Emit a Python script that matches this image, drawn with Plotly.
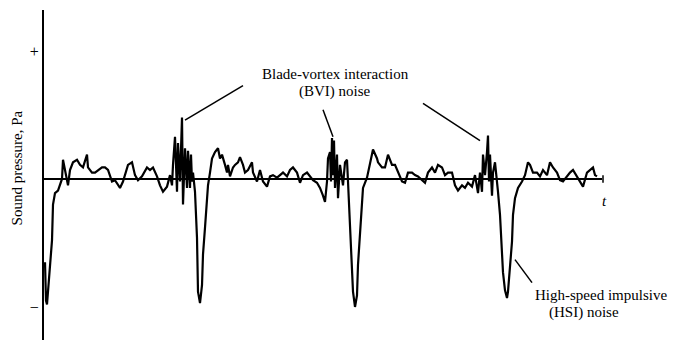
import plotly.graph_objects as go

# time (arbitrary units) and sound pressure (relative, + = 1, - = -1)
time = [0.01, 0.02, 0.03, 0.04, 0.06, 0.08, 0.09, 0.11, 0.14, 0.16, 0.18, 0.19, 0.21, 0.24, 0.26,
        0.29, 0.33, 0.36, 0.39, 0.43, 0.44, 0.48, 0.51, 0.54, 0.58, 0.61, 0.64, 0.68, 0.71, 0.76,
        0.79, 0.84, 0.88, 0.91, 0.94, 0.98, 1.03, 1.06, 1.09, 1.13, 1.16, 1.19, 1.23, 1.26, 1.28,
        1.29, 1.31, 1.33, 1.34, 1.36, 1.38, 1.39, 1.41, 1.43, 1.44, 1.46, 1.47, 1.48, 1.49, 1.51,
        1.53, 1.54, 1.56, 1.58, 1.59, 1.61, 1.63, 1.64, 1.66, 1.68, 1.71, 1.74, 1.76, 1.78, 1.81,
        1.83, 1.84, 1.86, 1.89, 1.91, 1.94, 1.96, 1.99, 2.01, 2.04, 2.08, 2.09, 2.11, 2.13, 2.16,
        2.19, 2.23, 2.26, 2.29, 2.33, 2.36, 2.39, 2.43, 2.46, 2.49, 2.53, 2.56, 2.59, 2.63, 2.66,
        2.69, 2.73, 2.76, 2.79, 2.81, 2.83, 2.84, 2.86, 2.87, 2.88, 2.89, 2.90, 2.91, 2.93, 2.94,
        2.96, 2.98, 2.99, 3.01, 3.03, 3.04, 3.06, 3.08, 3.09, 3.11, 3.13, 3.14, 3.16, 3.18, 3.19,
        3.23, 3.24, 3.28, 3.29, 3.33, 3.34, 3.38, 3.41, 3.44, 3.48, 3.51, 3.54, 3.58, 3.61, 3.64,
        3.68, 3.71, 3.74, 3.78, 3.81, 3.84, 3.88, 3.91, 3.94, 3.98, 4.01, 4.04, 4.08, 4.11, 4.14,
        4.18, 4.21, 4.24, 4.28, 4.31, 4.34, 4.36, 4.38, 4.39, 4.41, 4.43, 4.44, 4.45, 4.46, 4.48,
        4.49, 4.51, 4.53, 4.54, 4.56, 4.58, 4.59, 4.61, 4.63, 4.64, 4.66, 4.68, 4.69, 4.71, 4.74,
        4.78, 4.81, 4.84, 4.86, 4.89, 4.93, 4.96, 4.99, 5.03, 5.06, 5.09, 5.13, 5.16, 5.19, 5.23,
        5.26, 5.29, 5.33, 5.36, 5.39, 5.43, 5.46, 5.49, 5.51, 5.53]
pressure = [-0.65, -0.95, -0.98, -0.87, -0.71, -0.48, -0.20, -0.11, -0.09, -0.05, 0.00, 0.15, 0.07, -0.05, 0.07,
            0.13, 0.15, 0.11, 0.09, 0.19, 0.09, 0.05, 0.05, 0.07, 0.09, 0.09, 0.07, -0.02, -0.01, -0.07,
            -0.02, 0.11, 0.13, 0.03, -0.01, 0.02, 0.09, 0.07, 0.09, 0.02, -0.05, -0.10, -0.06, 0.03, -0.05,
            0.11, 0.33, -0.10, 0.28, -0.02, 0.48, -0.20, 0.24, -0.07, 0.22, -0.07, 0.19, -0.02, 0.05, -0.10,
            -0.46, -0.88, -0.97, -0.83, -0.59, -0.38, -0.18, -0.05, 0.05, 0.16, 0.21, 0.24, 0.16, 0.19, 0.11,
            0.05, 0.11, 0.02, 0.09, 0.11, 0.13, 0.17, 0.11, 0.05, 0.07, 0.13, 0.05, 0.01, -0.02, 0.07,
            -0.02, -0.06, 0.02, 0.03, 0.01, 0.03, 0.05, 0.02, 0.07, 0.09, 0.05, -0.03, 0.03, 0.05, 0.02,
            -0.01, -0.03, -0.07, -0.13, -0.18, -0.02, 0.16, 0.21, -0.02, 0.32, 0.03, 0.30, -0.07, 0.19, -0.15,
            0.11, -0.02, -0.05, 0.13, 0.15, -0.02, -0.41, -0.67, -0.88, -1.00, -0.91, -0.67, -0.46, -0.20, -0.07,
            0.01, 0.05, 0.21, 0.23, 0.16, 0.13, 0.09, 0.09, 0.19, 0.11, 0.11, 0.05, -0.02, -0.03, 0.05,
            0.05, 0.03, 0.02, -0.01, -0.03, 0.05, 0.09, 0.05, 0.11, 0.09, 0.03, 0.05, 0.05, -0.05, -0.09,
            -0.05, -0.07, -0.03, -0.06, 0.03, -0.11, 0.05, -0.10, 0.19, 0.03, 0.21, 0.34, -0.02, 0.19, -0.13,
            0.05, 0.13, -0.07, -0.10, -0.28, -0.52, -0.73, -0.87, -0.93, -0.88, -0.70, -0.49, -0.28, -0.15, -0.07,
            -0.02, 0.03, 0.13, 0.11, 0.05, 0.05, 0.02, 0.07, 0.03, 0.13, 0.09, 0.05, -0.01, -0.02, 0.02,
            0.05, 0.07, 0.02, -0.02, -0.06, 0.05, 0.07, 0.09, 0.03, 0.02]

t_end = 5.58
tick_vals = [1, -1]
tick_text = ["+", "\u2212"]

serif = "Liberation Serif, Times New Roman, serif"
txt = dict(family=serif, size=15, color="black")

fig = go.Figure()
fig.add_trace(go.Scatter(x=time, y=pressure, mode="lines",
                         line=dict(color="black", width=2.2), hoverinfo="skip"))

# zero baseline with small end tick
fig.add_shape(type="line", xref="x", yref="y", x0=0, x1=t_end, y0=0, y1=0,
              line=dict(color="black", width=2))
fig.add_shape(type="line", xref="x", yref="y", x0=t_end + 0.01, x1=t_end + 0.01, y0=-0.03, y1=0.03,
              line=dict(color="black", width=1.5))

# leader lines
leaders = [((1.99, 0.73), (1.41, 0.46)),
           ((2.79, 0.54), (2.89, 0.33)),
           ((3.79, 0.59), (4.36, 0.30)),
           ((4.71, -0.63), (4.88, -0.81))]
for (xa, ya), (xb, yb) in leaders:
    fig.add_shape(type="line", xref="x", yref="y", x0=xa, y0=ya, x1=xb, y1=yb,
                  line=dict(color="black", width=1.5))

fig.add_annotation(x=2.91, y=0.82, xref="x", yref="y", text="Blade-vortex interaction",
                   showarrow=False, font=txt)
fig.add_annotation(x=2.91, y=0.68, xref="x", yref="y", text="(BVI) noise",
                   showarrow=False, font=txt)
fig.add_annotation(x=5.57, y=-0.91, xref="x", yref="y", text="High-speed impulsive",
                   showarrow=False, font=txt)
fig.add_annotation(x=5.40, y=-1.04, xref="x", yref="y", text="(HSI) noise",
                   showarrow=False, font=txt)
fig.add_annotation(x=5.6, y=-0.17, xref="x", yref="y", text="<i>t</i>",
                   showarrow=False, font=txt)
fig.add_annotation(x=0, xshift=-27, xanchor="center", y=0.52, xref="paper", yref="paper",
                   text="Sound pressure, Pa", textangle=-90, showarrow=False,
                   font=dict(family=serif, size=15, color="black"))

fig.update_xaxes(range=[0, 6.32], visible=False)
fig.update_yaxes(range=[-1.258, 1.32], showgrid=False, zeroline=False, showline=True,
                 linecolor="black", linewidth=2, ticks="", tickvals=tick_vals, ticktext=tick_text,
                 tickfont=dict(family=serif, size=16, color="black"))
# page body adds 8px around the figure, so the figure is 8px smaller than the window
fig.update_layout(width=668, height=339, margin=dict(l=36, r=0, t=2, b=7),
                  plot_bgcolor="white", paper_bgcolor="white", showlegend=False)

fig.write_html("out.html")
